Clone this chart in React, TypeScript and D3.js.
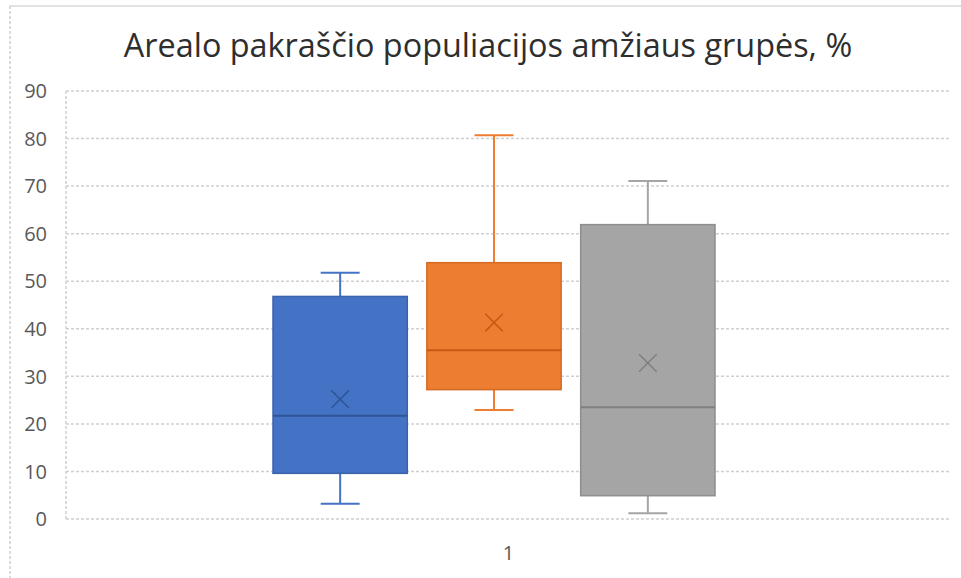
import React from "react";
import * as d3 from "d3";

// Series summaries for category "1"
const seriesNames = ["A", "B", "C"];
const seriesColors = ["#4472C4", "#ED7D31", "#A5A5A5"];
const seriesStroke = ["#3B63AC", "#D46C25", "#8E8E8E"];
const markStroke = ["#2F5597", "#C55A11", "#7F7F7F"];
const whiskerMin = [3.2, 22.9, 1.2];
const q1 = [9.6, 27.2, 4.9];
const median = [21.7, 35.5, 23.5];
const q3 = [46.8, 53.9, 61.9];
const whiskerMax = [51.8, 80.7, 71.1];
const means = [25.2, 41.3, 32.8];
const yTicks = [0, 10, 20, 30, 40, 50, 60, 70, 80, 90];
const categories = ["1"];

const W = 961;
const H = 578;
const plot = { left: 66, right: 951, top: 91, bottom: 519 };

export default function App() {
  const y = d3.scaleLinear().domain([0, 90]).range([plot.bottom, plot.top]);
  const xCat = d3.scaleBand().domain(categories).range([plot.left, plot.right]);
  // series boxes sit within the category slot
  const catStart = xCat(categories[0]) as number;
  const xSeries = d3
    .scaleBand()
    .domain(seriesNames)
    .range([catStart + 207, catStart + 649])
    .paddingInner(0.127);
  const bw = xSeries.bandwidth();
  const capHalf = bw * 0.145;
  const xHalf = 8.8;

  return (
    <div style={{ position: "fixed", left: 0, top: 0 }}>
      <svg width={W} height={H} style={{ display: "block", background: "#fff" }}>
        <rect x={10} y={6} width={1000} height={700} fill="#fff" stroke="#D9D9D9" strokeWidth={1.5} />
        <line x1={10} y1={6} x2={10} y2={H} stroke="#fff" strokeWidth={2} />
        <line x1={10} y1={6} x2={10} y2={H} stroke="#D0D0D0" strokeWidth={1.5} strokeDasharray="3,2" />
        <text
          x={488}
          y={57}
          textAnchor="middle"
          fontFamily="'Open Sans', sans-serif"
          fontSize={32.4}
          fill="#2E2E2E"
        >
          Arealo pakraščio populiacijos amžiaus grupės, %
        </text>
        {yTicks.map((t) => (
          <g key={t}>
            <line
              x1={plot.left}
              x2={plot.right}
              y1={y(t)}
              y2={y(t)}
              stroke="#D0D0D0"
              strokeWidth={1.5}
              strokeDasharray="3,2"
            />
            <text
              x={47}
              y={y(t)}
              dy="0.36em"
              textAnchor="end"
              fontFamily="'Open Sans', sans-serif"
              fontSize={20}
              fill="#595959"
            >
              {t}
            </text>
          </g>
        ))}
        <line x1={plot.left} x2={plot.left} y1={plot.top} y2={plot.bottom} stroke="#D0D0D0" strokeWidth={1.5} strokeDasharray="3,2" />
        {seriesNames.map((s, i) => {
          const x0 = xSeries(s) as number;
          const cx = x0 + bw / 2;
          return (
            <g key={s}>
              <line x1={cx} x2={cx} y1={y(q3[i])} y2={y(whiskerMax[i])} stroke={seriesColors[i]} strokeWidth={2} />
              <line x1={cx} x2={cx} y1={y(q1[i])} y2={y(whiskerMin[i])} stroke={seriesColors[i]} strokeWidth={2} />
              <line x1={cx - capHalf} x2={cx + capHalf} y1={y(whiskerMax[i])} y2={y(whiskerMax[i])} stroke={seriesColors[i]} strokeWidth={2} />
              <line x1={cx - capHalf} x2={cx + capHalf} y1={y(whiskerMin[i])} y2={y(whiskerMin[i])} stroke={seriesColors[i]} strokeWidth={2} />
              <rect
                x={x0}
                y={y(q3[i])}
                width={bw}
                height={y(q1[i]) - y(q3[i])}
                fill={seriesColors[i]}
                stroke={seriesStroke[i]}
                strokeWidth={1.5}
              />
              <line x1={x0} x2={x0 + bw} y1={y(median[i])} y2={y(median[i])} stroke={markStroke[i]} strokeWidth={2} />
              <g stroke={markStroke[i]} strokeWidth={1.5}>
                <line x1={cx - xHalf} x2={cx + xHalf} y1={y(means[i]) - xHalf} y2={y(means[i]) + xHalf} />
                <line x1={cx - xHalf} x2={cx + xHalf} y1={y(means[i]) + xHalf} y2={y(means[i]) - xHalf} />
              </g>
            </g>
          );
        })}
        {categories.map((c) => (
          <text
            key={c}
            x={(xCat(c) as number) + xCat.bandwidth() / 2}
            y={553}
            dy="0.36em"
            textAnchor="middle"
            fontFamily="'Open Sans', sans-serif"
            fontSize={20}
            fill="#595959"
          >
            {c}
          </text>
        ))}
      </svg>
    </div>
  );
}
